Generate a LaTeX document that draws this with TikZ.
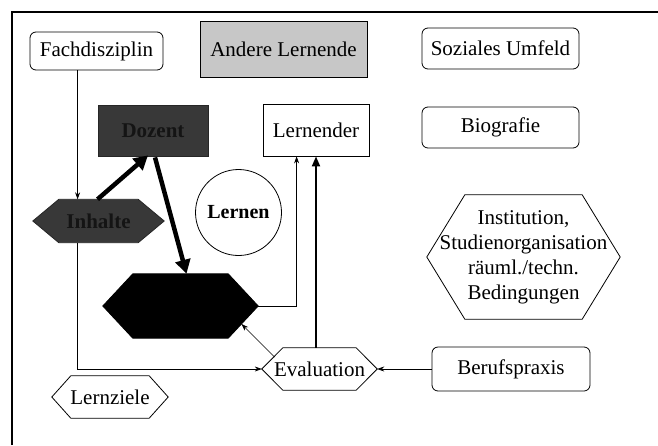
\documentclass[tikz,border=0pt]{standalone}
\usepackage{fontspec}
\setmainfont{Liberation Serif}
\usetikzlibrary{arrows.meta,backgrounds,calc}
\newcommand\hexshape[3]{\path[#3] (#1.west) -- ($(#1.north west)+(#2,0)$) -- ($(#1.north east)+(-#2,0)$) -- (#1.east) -- ($(#1.south east)+(-#2,0)$) -- ($(#1.south west)+(#2,0)$) -- cycle;}
\begin{document}
\begin{tikzpicture}[x=1pt,y=-1pt,
  every node/.style={font=\fontsize{21}{25}\selectfont, inner sep=0pt, align=center},
  rbox/.style={draw, rounded corners=6pt, line width=0.8pt},
  sbox/.style={draw, line width=0.8pt},
  hexline/.style={draw, line width=0.8pt},
  darktext/.style={font=\fontsize{21}{25}\selectfont\bfseries, text=black!92},
  thinarrow/.style={line width=0.7pt, -{Stealth[length=7pt,width=5pt]}},
  midarrow/.style={line width=2pt, -{Triangle[length=10pt,width=8pt]}},
  thickarrow/.style={line width=4.5pt, -{Triangle[length=14pt,width=15pt]}},
]
\useasboundingbox (0,0) rectangle (658,445);
\draw[line width=1.1pt] (12,445) -- (12,12) -- (658,12);

% boxes
\node[rbox, minimum width=133pt, minimum height=38pt] (fach) at (96.5,51) {Fachdisziplin};
\node[sbox, fill=black!22, minimum width=167pt, minimum height=56pt] (and) at (283.5,49) {Andere Lernende};
\node[rbox, minimum width=157pt, minimum height=41pt] (soz) at (500.5,48.5) {Soziales Umfeld};
\node[rbox, minimum width=157pt, minimum height=41pt] (bio) at (500.5,127.5) {Biografie};
\node[sbox, minimum width=106pt, minimum height=52pt] (lern) at (316,130) {Lernender};
\node[sbox, darktext, draw=black!85, fill=black!78, minimum width=110pt, minimum height=51pt] (doz) at (153,130.5) {Dozent};
\node[draw, circle, line width=0.8pt, minimum size=86pt, font=\fontsize{20}{24}\selectfont\bfseries] (lcirc) at (238.5,212.5) {Lernen};
\node[rbox, minimum width=158pt, minimum height=44pt] (beruf) at (511,369) {Berufspraxis};

% hexagons
\node[darktext, minimum width=131pt, minimum height=43pt] (inh) at (98.5,221) {Inhalte};
\node[minimum width=155pt, minimum height=64pt] (blk) at (180.5,306) {};
\node[minimum width=115pt, minimum height=42pt] (eva) at (319.5,369) {Evaluation};
\node[minimum width=193pt, minimum height=124pt] (inst) at (523.5,257) {Institution,\\Studienorganisation\\räuml./techn.\\Bedingungen};
\node[minimum width=116pt, minimum height=42pt] (lz) at (110,397) {Lernziele};
\begin{scope}[on background layer]
  \fill[white] (0,0) rectangle (658,445);
  \hexshape{inh}{26}{draw=black!85, line width=0.8pt, fill=black!78}
  \hexshape{blk}{30}{draw=black, line width=0.8pt, fill=black}
  \hexshape{eva}{21}{hexline, fill=white}
  \hexshape{inst}{38}{hexline, fill=white}
  \hexshape{lz}{19}{hexline, fill=white}
\end{scope}

% connectors
\coordinate (fx) at ($(fach.south west)+(48,0)$);
\draw[thinarrow] (fx) -- (fx |- inh.north);
\draw[thinarrow] (fx |- inh.south) |- (eva.west);
\draw[thickarrow] ($(inh.north)+(-1,0)$) -- ($(doz.south)+(-5,-1)$);
\draw[thickarrow] ($(doz.south)+(2,1)$) -- ($(blk.north)+(6,0)$);
\draw[thinarrow] (blk.east) -| ($(lern.south west)+(34,0)$);
\draw[midarrow] (lern.south |- eva.north) -- (lern.south);
\draw[thinarrow] ($(eva.center)+(-45,-12)$) -- ($(blk.center)+(61,18)$);
\draw[thinarrow] (beruf.west) -- (eva.east);
\end{tikzpicture}
\end{document}
